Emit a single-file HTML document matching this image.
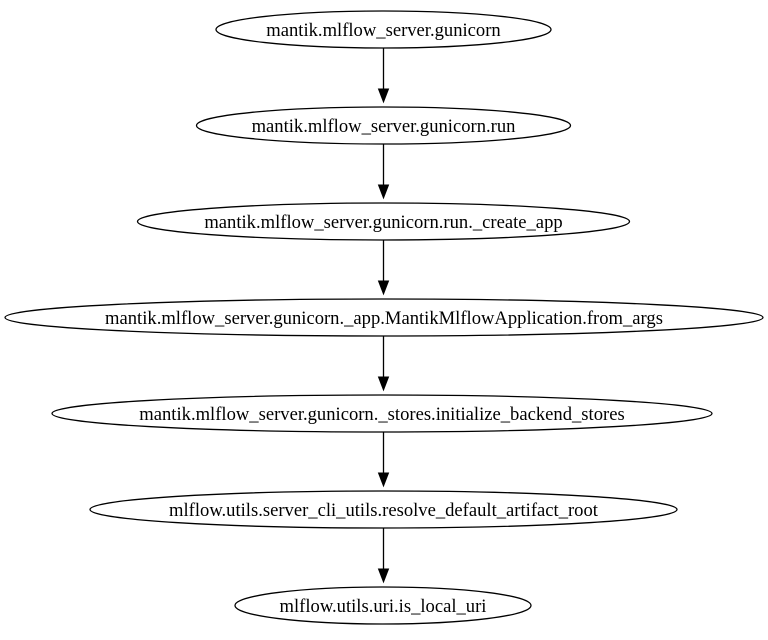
<!DOCTYPE html>
<html><head><style>html,body{margin:0;padding:0;background:#fff}</style></head>
<body>
<svg width="768" height="635" xmlns="http://www.w3.org/2000/svg" font-family="'Liberation Serif', serif" font-size="18.6">
<g fill="none" stroke="#000" stroke-width="1.3">
<ellipse cx="383.5" cy="29.5" rx="167.5" ry="18.5"/>
<ellipse cx="383.5" cy="125.5" rx="187" ry="18.5"/>
<ellipse cx="383.5" cy="221.5" rx="246" ry="18.5"/>
<ellipse cx="384" cy="317.5" rx="379" ry="18.5"/>
<ellipse cx="382" cy="413.5" rx="330" ry="18.5"/>
<ellipse cx="383.5" cy="509.5" rx="293.5" ry="18.5"/>
<ellipse cx="383" cy="605.5" rx="148" ry="18.5"/>
<path d="M383.5 48V89M383.5 144V185M383.5 240V281M383.5 336V377M383.5 432V473M383.5 528V569"/>
</g>
<g fill="#000" stroke="#000">
<path d="M378.5 89L383.5 102L388.5 89Z"/>
<path d="M378.5 185L383.5 198L388.5 185Z"/>
<path d="M378.5 281L383.5 294L388.5 281Z"/>
<path d="M378.5 377L383.5 390L388.5 377Z"/>
<path d="M378.5 473L383.5 486L388.5 473Z"/>
<path d="M378.5 569L383.5 582L388.5 569Z"/>
</g>
<g text-anchor="middle" fill="#000">
<text x="383.5" y="36">mantik.mlflow_server.gunicorn</text>
<text x="383.5" y="132">mantik.mlflow_server.gunicorn.run</text>
<text x="383.5" y="228">mantik.mlflow_server.gunicorn.run._create_app</text>
<text x="384" y="324">mantik.mlflow_server.gunicorn._app.MantikMlflowApplication.from_args</text>
<text x="382" y="420">mantik.mlflow_server.gunicorn._stores.initialize_backend_stores</text>
<text x="383.5" y="516">mlflow.utils.server_cli_utils.resolve_default_artifact_root</text>
<text x="383" y="612">mlflow.utils.uri.is_local_uri</text>
</g>
</svg>
</body></html>
